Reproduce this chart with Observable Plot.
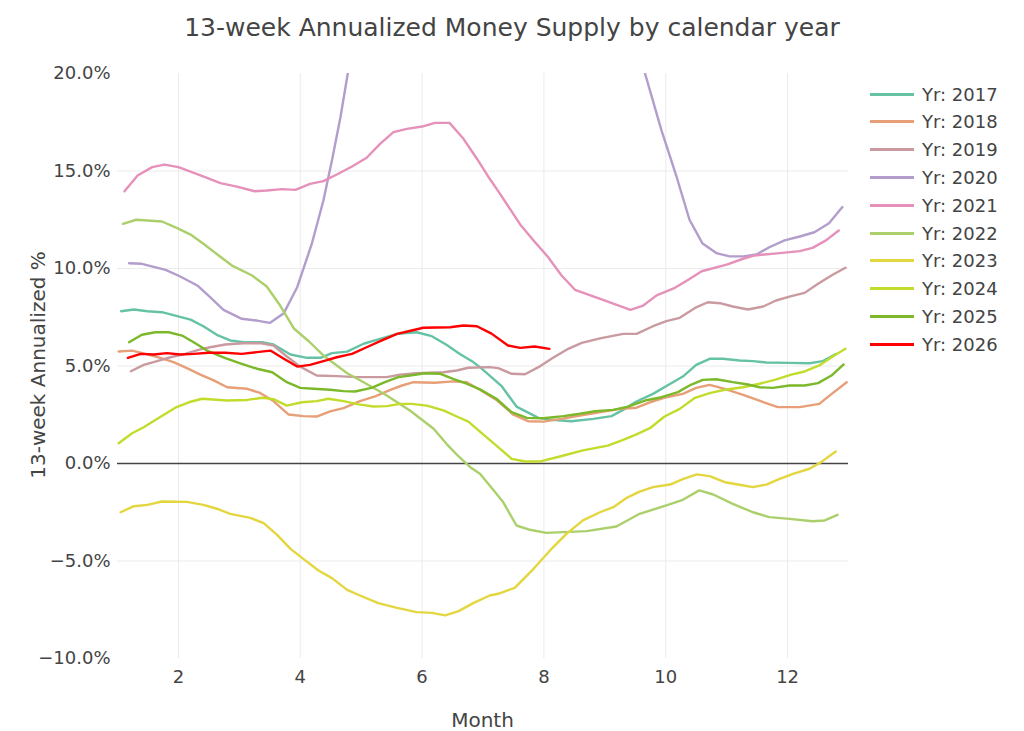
<!DOCTYPE html>
<html>
<head>
<meta charset="utf-8">
<script src="https://cdn.jsdelivr.net/npm/d3@7"></script>
<script src="https://cdn.jsdelivr.net/npm/@observablehq/plot@0.6"></script>
<style>
  html, body { margin: 0; padding: 0; background: #fff; }
  body { width: 1024px; height: 731px; position: relative; overflow: hidden; font-family: "DejaVu Sans", sans-serif; color: #444; }
  #chart { position: absolute; left: 0; top: 0; }
  .title { position: absolute; left: 0; width: 1024px; top: 13px; text-align: center; font-size: 25px; line-height: 30px; color: #444; }
  .xlabel { position: absolute; left: 117px; width: 731px; top: 708px; text-align: center; font-size: 20px; line-height: 24px; }
  .ylabel { position: absolute; left: 38px; top: 365px; transform: translate(-50%, -50%) rotate(-90deg); font-size: 20px; line-height: 24px; white-space: nowrap; }
  .legend { position: absolute; left: 870px; top: 80px; }
  .legend .row { position: absolute; left: 0; height: 28px; display: flex; align-items: center; white-space: nowrap; font-size: 18px; }
  .legend .sw { width: 44px; height: 3px; margin-right: 8px; }
</style>
</head>
<body>
<div id="chart"></div>
<div class="title">13-week Annualized Money Supply by calendar year</div>
<div class="xlabel">Month</div>
<div class="ylabel">13-week Annualized %</div>
<div class="legend" id="legend"></div>
<script>
const years = [2017, 2018, 2019, 2020, 2021, 2022, 2023, 2024, 2025, 2026];
const colors = ["#66c2a5", "#e69f76", "#c99a9f", "#b29dcc", "#e591b9", "#abd06b", "#e3d63f", "#c3dc2b", "#7bb82a", "#ff0000"];
const xTicks = [2, 4, 6, 8, 10, 12];
const yTicks = [-10, -5, 0, 5, 10, 15, 20];

const m2017 = [1.06,1.27,1.49,1.73,1.98,2.2,2.41,2.63,2.85,3.07,3.37,3.56,3.84,4.11,4.33,4.52,4.77,5.04,5.31,5.59,5.91,6.16,6.40,6.62,6.84,6.95,7.11,7.31,7.55,7.91,8.13,8.45,8.81,9.11,9.30,9.52,9.79,10.04,10.28,10.50,10.72,10.94,11.21,11.43,11.65,12.03,12.36,12.58,12.80];
const v2017 = [7.81,7.90,7.81,7.76,7.56,7.38,7.04,6.6,6.31,6.22,6.22,6.10,5.59,5.42,5.42,5.66,5.74,6.14,6.39,6.65,6.73,6.53,6.09,5.62,5.2,4.94,4.51,3.95,2.92,2.34,2.24,2.17,2.29,2.43,2.75,3.18,3.57,4.03,4.46,5.06,5.37,5.37,5.28,5.25,5.18,5.16,5.14,5.25,5.62];

const m2018 = [1.02,1.24,1.46,1.70,1.92,2.14,2.36,2.58,2.80,3.13,3.34,3.56,3.81,4.05,4.27,4.49,4.71,4.98,5.23,5.48,5.67,5.86,6.21,6.51,6.73,6.95,7.22,7.50,7.74,7.99,8.29,8.59,8.86,9.25,9.52,9.74,10.01,10.28,10.50,10.72,10.97,11.27,11.57,11.84,12.2,12.52,12.74,12.97];
const v2018 = [5.74,5.79,5.62,5.42,5.2,4.89,4.56,4.26,3.91,3.83,3.62,3.20,2.51,2.43,2.41,2.67,2.84,3.20,3.44,3.78,4.0,4.17,4.14,4.21,4.17,3.78,3.26,2.5,2.17,2.15,2.29,2.46,2.6,2.80,2.86,3.14,3.40,3.57,3.88,4.03,3.83,3.52,3.18,2.89,2.89,3.06,3.61,4.17];

const m2019 = [1.22,1.43,1.65,1.87,2.11,2.33,2.52,2.77,3.07,3.34,3.56,3.78,4.0,4.27,4.60,4.93,5.42,5.64,5.91,6.35,6.57,6.76,7.11,7.25,7.47,7.69,7.91,8.15,8.40,8.62,8.94,9.30,9.52,9.79,10.01,10.23,10.48,10.69,10.89,11.10,11.35,11.60,11.81,12.06,12.28,12.50,12.74,12.95];
const v2019 = [4.73,5.06,5.25,5.45,5.62,5.83,5.96,6.10,6.17,6.17,6.05,5.49,4.97,4.51,4.48,4.43,4.43,4.56,4.63,4.68,4.77,4.91,4.94,4.89,4.6,4.58,4.94,5.42,5.88,6.19,6.43,6.65,6.65,7.04,7.30,7.47,7.98,8.27,8.22,8.05,7.9,8.05,8.36,8.58,8.75,9.22,9.68,10.04];

const m2020 = [1.19,1.40,1.79,2.03,2.31,2.52,2.74,3.04,3.29,3.50,3.73,3.95,4.19,4.38,4.52,4.66,4.78,5.0,5.3,5.6,6.0,6.4,6.8,7.2,7.6,8.0,8.5,9.0,9.4,9.66,9.79,9.93,10.18,10.39,10.60,10.83,11.05,11.27,11.49,11.70,11.95,12.2,12.44,12.68,12.90];
const v2020 = [10.27,10.24,9.93,9.59,9.13,8.53,7.88,7.42,7.33,7.21,7.71,9.04,11.27,13.49,15.54,17.76,20.0,26.5,35,44,53,57,56,53,48,43,36,29,23.5,20.0,18.6,17.08,14.68,12.5,11.3,10.79,10.62,10.62,10.72,11.09,11.44,11.64,11.86,12.32,13.15];

const m2021 = [1.115,1.33,1.57,1.77,2.0,2.22,2.47,2.69,2.96,3.25,3.45,3.70,3.92,4.16,4.38,4.60,4.85,5.09,5.31,5.53,5.75,6.0,6.21,6.45,6.68,6.90,7.11,7.28,7.61,7.83,8.07,8.29,8.51,8.97,9.42,9.63,9.85,10.15,10.37,10.59,11.0,11.27,11.46,11.87,12.2,12.41,12.63,12.84];
const v2021 = [13.96,14.77,15.2,15.33,15.2,14.94,14.65,14.38,14.2,13.96,14.0,14.07,14.03,14.34,14.48,14.82,15.23,15.68,16.39,16.99,17.16,17.28,17.47,17.47,16.65,15.63,14.6,13.83,12.26,11.44,10.58,9.64,8.91,8.39,7.88,8.1,8.62,9.01,9.42,9.86,10.2,10.5,10.67,10.79,10.89,11.06,11.44,11.95];

const m2022 = [1.09,1.31,1.73,1.98,2.2,2.41,2.66,2.88,3.21,3.45,3.67,3.90,4.14,4.38,4.77,5.04,5.42,5.80,6.19,6.40,6.60,6.79,6.95,7.11,7.33,7.55,7.77,8.04,8.70,9.19,9.57,10.01,10.28,10.55,10.78,11.1,11.43,11.70,12.03,12.41,12.61,12.82];
const v2022 = [12.29,12.5,12.41,12.07,11.74,11.27,10.67,10.15,9.64,9.08,8.1,6.91,6.27,5.54,4.63,4.17,3.49,2.72,1.78,1.01,0.36,-0.19,-0.53,-1.13,-1.98,-3.18,-3.4,-3.56,-3.47,-3.23,-2.58,-2.15,-1.86,-1.38,-1.59,-2.07,-2.5,-2.75,-2.84,-2.96,-2.92,-2.63];

const m2023 = [1.05,1.27,1.49,1.73,2.14,2.41,2.63,2.85,3.18,3.40,3.62,3.84,4.05,4.30,4.52,4.77,4.98,5.28,5.59,5.91,6.16,6.38,6.60,6.84,7.11,7.25,7.52,7.83,8.10,8.37,8.64,8.92,9.14,9.36,9.57,9.79,10.07,10.28,10.51,10.72,10.97,11.21,11.43,11.65,11.87,12.09,12.36,12.55,12.79];
const v2023 = [-2.5,-2.19,-2.12,-1.95,-1.97,-2.12,-2.32,-2.58,-2.79,-3.06,-3.66,-4.38,-4.89,-5.49,-5.88,-6.48,-6.77,-7.16,-7.4,-7.62,-7.66,-7.79,-7.57,-7.16,-6.77,-6.68,-6.38,-5.40,-4.46,-3.61,-2.92,-2.5,-2.24,-1.76,-1.44,-1.21,-1.08,-0.80,-0.56,-0.65,-0.96,-1.09,-1.21,-1.08,-0.79,-0.53,-0.27,0.07,0.62];

const m2024 = [1.02,1.24,1.43,1.70,1.95,2.17,2.39,2.80,3.13,3.37,3.56,3.78,4.03,4.27,4.46,4.71,4.96,5.20,5.42,5.64,5.83,6.08,6.35,6.57,6.76,6.95,7.22,7.47,7.69,7.93,8.26,8.64,9.05,9.30,9.52,9.74,9.98,10.23,10.48,10.72,10.97,11.27,11.54,11.79,12.06,12.28,12.52,12.74,12.95];
const v2024 = [1.04,1.55,1.86,2.38,2.86,3.14,3.32,3.23,3.26,3.37,3.30,2.97,3.14,3.2,3.32,3.2,3.03,2.92,2.94,3.06,3.06,2.97,2.72,2.41,2.15,1.63,0.92,0.24,0.10,0.10,0.36,0.67,0.92,1.21,1.49,1.81,2.41,2.80,3.37,3.61,3.78,3.91,4.09,4.29,4.56,4.72,5.03,5.49,5.88];

const m2025 = [1.19,1.40,1.62,1.84,2.06,2.25,2.47,2.77,3.04,3.29,3.54,3.78,4.0,4.22,4.49,4.71,4.90,5.17,5.39,5.61,5.80,6.05,6.30,6.51,6.73,6.95,7.22,7.47,7.72,7.99,8.32,8.59,8.84,9.14,9.38,9.66,9.93,10.20,10.42,10.61,10.83,11.10,11.35,11.54,11.76,12.03,12.28,12.50,12.72,12.92];
const v2025 = [6.22,6.6,6.73,6.73,6.56,6.22,5.79,5.4,5.11,4.86,4.68,4.17,3.88,3.83,3.78,3.71,3.69,3.88,4.17,4.43,4.51,4.63,4.6,4.34,4.09,3.8,3.32,2.63,2.34,2.32,2.43,2.55,2.68,2.75,2.92,3.23,3.40,3.66,4.05,4.29,4.32,4.17,4.05,3.91,3.88,4.0,4.0,4.12,4.51,5.08];

const m2026 = [1.17,1.38,1.60,1.81,2.03,2.25,2.50,2.77,3.04,3.29,3.51,3.73,3.95,4.16,4.41,4.60,4.85,5.09,5.34,5.59,5.83,6.02,6.46,6.68,6.90,7.14,7.41,7.61,7.85,8.09];
const v2026 = [5.42,5.62,5.59,5.66,5.59,5.62,5.68,5.68,5.62,5.71,5.79,5.37,4.97,5.06,5.28,5.45,5.62,5.96,6.31,6.65,6.82,6.96,6.99,7.08,7.04,6.66,6.05,5.93,6.0,5.88];

const monthsByYear = [m2017, m2018, m2019, m2020, m2021, m2022, m2023, m2024, m2025, m2026];
const valuesByYear = [v2017, v2018, v2019, v2020, v2021, v2022, v2023, v2024, v2025, v2026];

const rows = [];
years.forEach((yr, i) => {
  monthsByYear[i].forEach((m, j) => rows.push({year: yr, month: m, value: valuesByYear[i][j]}));
});

const fmtPct = d => (d < 0 ? "\u2212" : "") + Math.abs(d).toFixed(1) + "%";

const lineMarks = years.map(yr => Plot.line(rows.filter(r => r.year === yr), {
  x: "month", y: "value", stroke: "year", strokeWidth: 2.4, clip: true, curve: "linear"
}));

const chart = Plot.plot({
  width: 1024,
  height: 731,
  marginLeft: 117,
  marginRight: 176,
  marginTop: 73,
  marginBottom: 73,
  style: {fontFamily: "DejaVu Sans", fontSize: "18px", color: "#444", background: "transparent"},
  x: {domain: [1, 13]},
  y: {domain: [-10, 20]},
  color: {type: "ordinal", domain: years, range: colors},
  marks: [
    Plot.gridX(xTicks, {stroke: "#ebebeb", strokeOpacity: 1, strokeWidth: 1}),
    Plot.gridY([-5, 5, 10, 15], {stroke: "#ebebeb", strokeOpacity: 1, strokeWidth: 1}),
    Plot.ruleY([0], {stroke: "#444", strokeWidth: 1.5}),
    Plot.axisX({ticks: xTicks, tickSize: 0, tickPadding: 12, label: null, fill: "#444"}),
    Plot.axisY({ticks: yTicks, tickSize: 0, tickPadding: 7, label: null, tickFormat: fmtPct, fill: "#444"}),
    ...lineMarks
  ]
});
document.getElementById("chart").appendChild(chart);

const legend = document.getElementById("legend");
years.forEach((yr, i) => {
  const row = document.createElement("div");
  row.className = "row";
  row.style.top = (i * 27.8) + "px";
  const sw = document.createElement("div");
  sw.className = "sw";
  sw.style.background = colors[i];
  const label = document.createElement("span");
  label.textContent = "Yr: " + yr;
  row.appendChild(sw);
  row.appendChild(label);
  legend.appendChild(row);
});
</script>
</body>
</html>
